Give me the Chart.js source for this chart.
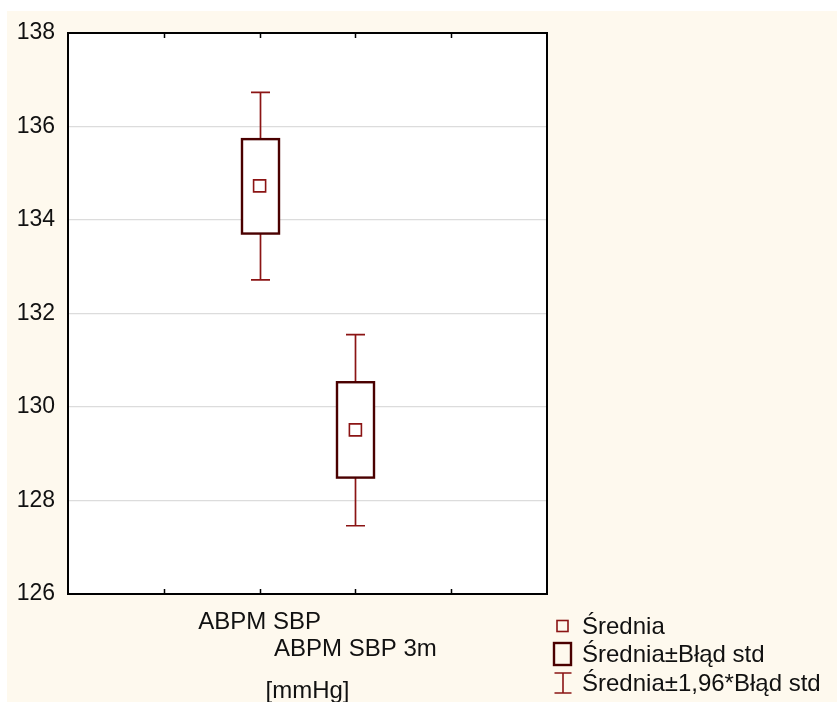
<!DOCTYPE html>
<html>
<head>
<meta charset="utf-8">
<script src="https://cdn.jsdelivr.net/npm/chart.js@4"></script>
<style>
  html, body { margin: 0; padding: 0; background: #ffffff; }
  #wrap { width: 837px; height: 702px; }
</style>
</head>
<body>
<div id="wrap"><canvas id="chart" width="837" height="702"></canvas></div>
<script>
// values
const categories = ['ABPM SBP', 'ABPM SBP 3m'];
const catPos = [2, 3];
const means = [134.73, 129.51];
const seLow = [133.71, 128.49];
const seHigh = [135.73, 130.53];
const ciLow = [132.72, 127.46];
const ciHigh = [136.73, 131.55];
const yTicks = [126, 128, 130, 132, 134, 136, 138];

const legendLabels = ['Średnia', 'Średnia±Błąd std', 'Średnia±1,96*Błąd std'];

const FONT = "'Liberation Sans', Arial, sans-serif";
const CREAM = '#fef9ee';
const BOX = '#4a0000';
const WHISK = '#8b1414';

const bgPlugin = {
  id: 'bg',
  beforeDraw(chart) {
    const { ctx, chartArea: a } = chart;
    ctx.save();
    ctx.fillStyle = CREAM;
    ctx.fillRect(7, 11, chart.width - 7, chart.height - 11);
    ctx.fillStyle = '#ffffff';
    ctx.fillRect(a.left, a.top, a.right - a.left, a.bottom - a.top);
    ctx.restore();
  }
};

// boxes and whiskers, drawn under the mean markers
const boxPlugin = {
  id: 'boxes',
  beforeDatasetsDraw(chart) {
    const { ctx, scales: { x, y } } = chart;
    ctx.save();
    catPos.forEach((p, i) => {
      const cx = Math.round(x.getPixelForValue(p)) + 0.5;
      const bTop = y.getPixelForValue(seHigh[i]);
      const bBot = y.getPixelForValue(seLow[i]);
      const wTop = y.getPixelForValue(ciHigh[i]);
      const wBot = y.getPixelForValue(ciLow[i]);
      // whiskers
      ctx.strokeStyle = WHISK;
      ctx.lineWidth = 1.7;
      ctx.beginPath();
      ctx.moveTo(cx, bTop); ctx.lineTo(cx, wTop);
      ctx.moveTo(cx - 9.5, wTop); ctx.lineTo(cx + 9.5, wTop);
      ctx.moveTo(cx, bBot); ctx.lineTo(cx, wBot);
      ctx.moveTo(cx - 9.5, wBot); ctx.lineTo(cx + 9.5, wBot);
      ctx.stroke();
      // box
      ctx.fillStyle = '#ffffff';
      ctx.fillRect(cx - 18.5, bTop, 37, bBot - bTop);
      ctx.strokeStyle = BOX;
      ctx.lineWidth = 2.4;
      ctx.strokeRect(cx - 18.5, bTop, 37, bBot - bTop);
    });
    ctx.restore();
  },
  afterDraw(chart) {
    const { ctx, chartArea: a, scales: { x } } = chart;
    ctx.save();
    // frame
    ctx.strokeStyle = '#000000';
    ctx.lineWidth = 2;
    ctx.strokeRect(a.left, a.top, a.right - a.left, a.bottom - a.top);
    // inward tick marks top and bottom
    ctx.lineWidth = 1.5;
    ctx.beginPath();
    x.ticks.forEach(t => {
      if (t.value <= x.min || t.value >= x.max) return;
      const px = Math.round(x.getPixelForValue(t.value)) + 0.5;
      ctx.moveTo(px, a.top); ctx.lineTo(px, a.top + 5);
      ctx.moveTo(px, a.bottom); ctx.lineTo(px, a.bottom - 5);
    });
    ctx.stroke();

    // legend
    ctx.font = '24px ' + FONT;
    ctx.fillStyle = '#111111';
    ctx.textBaseline = 'middle';
    const rows = [626, 654, 683];
    legendLabels.forEach((t, i) => ctx.fillText(t, 582, rows[i] + 1));
    ctx.strokeStyle = WHISK;
    ctx.lineWidth = 1.6;
    ctx.strokeRect(557, rows[0] - 5.5, 11, 11);
    ctx.strokeStyle = BOX;
    ctx.lineWidth = 2.4;
    ctx.strokeRect(554, rows[1] - 11, 17, 22);
    ctx.strokeStyle = WHISK;
    ctx.lineWidth = 1.6;
    ctx.beginPath();
    ctx.moveTo(563, rows[2] - 10); ctx.lineTo(563, rows[2] + 10);
    ctx.moveTo(554.5, rows[2] - 10); ctx.lineTo(571.5, rows[2] - 10);
    ctx.moveTo(554.5, rows[2] + 10); ctx.lineTo(571.5, rows[2] + 10);
    ctx.stroke();
    ctx.restore();
  }
};

const ctx = document.getElementById('chart').getContext('2d');
const myChart = new Chart(ctx, {
  type: 'scatter',
  data: {
    datasets: [{
      label: legendLabels[0],
      data: catPos.map((p, i) => ({ x: p, y: means[i] })),
      pointStyle: 'rect',
      pointRadius: 8.5,
      pointHoverRadius: 8.5,
      pointBorderWidth: 1.6,
      borderColor: WHISK,
      backgroundColor: 'rgba(255,255,255,0)'
    }]
  },
  options: {
    responsive: false,
    animation: false,
    layout: { padding: { top: 33, right: 290, left: 0, bottom: 0 } },
    plugins: { legend: { display: false }, tooltip: { enabled: false } },
    scales: {
      x: {
        type: 'linear',
        min: 0,
        max: 5,
        afterFit(scale) { scale.height = 108; },
        afterBuildTicks(scale) {
          scale.ticks = [0, 1, 2, 3, 4, 5].map(v => ({ value: v }));
        },
        grid: { display: false, drawTicks: false },
        border: { display: false },
        ticks: {
          padding: 15,
          maxRotation: 0,
          autoSkip: false,
          color: '#111111',
          font: { family: FONT, size: 24, lineHeight: 1.125 },
          callback(v) {
            const i = catPos.indexOf(v);
            if (i < 0) return '';
            return i === 0 ? [categories[i]] : ['', categories[i]];
          }
        },
        title: {
          display: true,
          text: '[mmHg]',
          color: '#111111',
          padding: 0,
          font: { family: FONT, size: 24, lineHeight: 0.9 }
        }
      },
      y: {
        min: yTicks[0],
        max: yTicks[yTicks.length - 1],
        afterFit(scale) { scale.width = 68; },
        afterBuildTicks(scale) {
          scale.ticks = yTicks.map(v => ({ value: v }));
        },
        grid: {
          drawTicks: false,
          lineWidth: 1.3,
          color(c) {
            const v = c.tick && c.tick.value;
            return (v === yTicks[0] || v === yTicks[yTicks.length - 1]) ? 'rgba(0,0,0,0)' : '#dcdcdc';
          }
        },
        border: { display: false },
        ticks: {
          padding: 13,
          color: '#111111',
          font: { family: FONT, size: 23 }
        }
      }
    }
  },
  plugins: [bgPlugin, boxPlugin]
});
</script>
</body>
</html>
